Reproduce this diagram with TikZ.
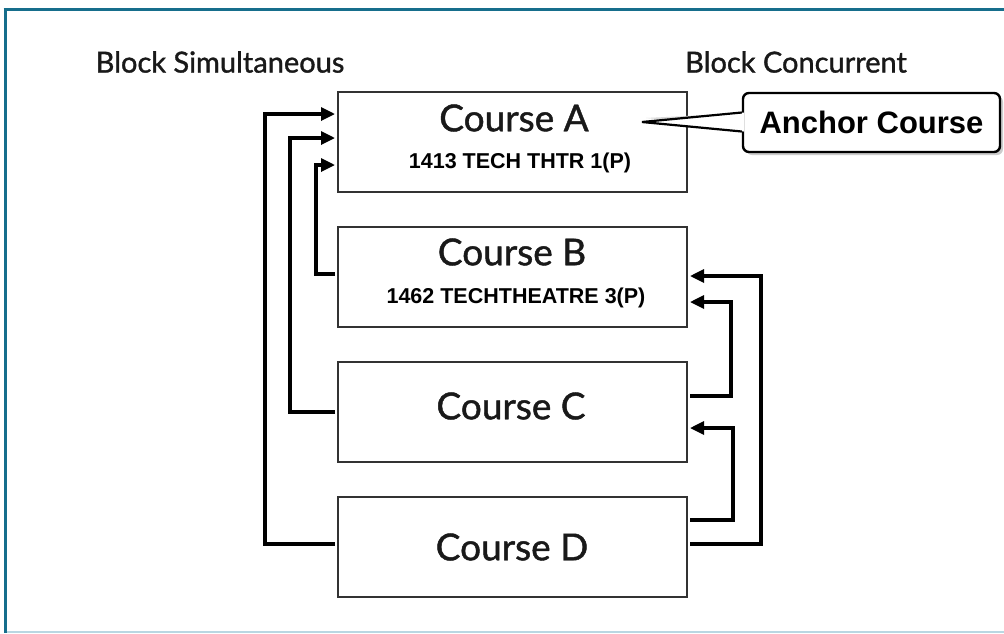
\documentclass[tikz,border=0pt]{standalone}
\usepackage{fontspec}
\setmainfont{Liberation Sans}
\newfontfamily\gillfont[FakeBold=1.2]{Lato}
\usetikzlibrary{arrows.meta,shadows}
\definecolor{frameteal}{RGB}{22,110,140}
\definecolor{framelight}{RGB}{185,215,226}
\definecolor{boxgray}{RGB}{50,50,50}
\begin{document}
\begin{tikzpicture}[x=1pt,y=-1pt,
  box/.style={draw=boxgray,line width=2pt,minimum width=349pt,minimum height=100pt,inner sep=0pt,fill=white},
  title/.style={font=\gillfont\fontsize{37}{40}\selectfont,inner sep=0pt,text=black!90},
  sub/.style={font=\bfseries\fontsize{21.5}{24}\selectfont,inner sep=0pt},
  head/.style={font=\gillfont\fontsize{29}{32}\selectfont,inner sep=0pt,text=black!90},
  conn/.style={line width=3.2pt,-{Triangle[length=14pt,width=13pt]},shorten <=2pt,shorten >=2pt},
  ancbox/.style={draw=black,line width=2.4pt,rounded corners=6pt,fill=white,minimum width=257pt,minimum height=59pt,inner sep=0pt,font=\bfseries\fontsize{31}{34}\selectfont,drop shadow={shadow xshift=3pt,shadow yshift=-3pt,opacity=0.4}}
]
\useasboundingbox (0,0) rectangle (1004,633);
\fill[white] (0,0) rectangle (1004,633);
% frame
\draw[frameteal,line width=3pt] (3.5,9.5) -- (1004,9.5);
\draw[frameteal,line width=3pt] (5,8) -- (5,633);
\draw[framelight,line width=2pt] (6.5,632) -- (1004,632);
% headings
\node[head] (hs) at (220,62) {Block Simultaneous};
\node[head] (hc) at (796,62) {Block Concurrent};
% boxes
\node[box] (A) at (512.5,142) {};
\node[box] (B) at (512.5,277) {};
\node[box] (C) at (512.5,412) {};
\node[box] (D) at (512.5,547) {};
\node[title] (At) at (514,118) {Course A};
\node[sub] (As) at (520,163) {1413 TECH THTR 1(P)};
\node[title] (Bt) at (512,252) {Course B};
\node[sub] (Bs) at (516,298) {1462 TECHTHEATRE 3(P)};
\node[title] (Ct) at (511,406) {Course C};
\node[title] (Dt) at (512,547) {Course D};
% left connectors
\draw[conn] ([yshift=3pt]B.west) -- ++(-21,0) |- ([yshift=-23pt]A.west);
\draw[conn] (C.west) -- ++(-47,0) |- ([yshift=4pt]A.west);
\draw[conn] ([yshift=3pt]D.west) -- ++(-72,0) |- ([yshift=28pt]A.west);
% right connectors
\draw[conn] ([yshift=3pt]D.east) -- ++(73,0) |- ([yshift=1pt]B.east);
\draw[conn] ([yshift=16pt]C.east) -- ++(43,0) |- ([yshift=-25pt]B.east);
\draw[conn] ([yshift=27pt]D.east) -- ++(45,0) |- ([yshift=-16pt]C.east);
% anchor callout
\coordinate (tip) at (642,122);
\fill[black!15] ([xshift=4pt,yshift=4pt]tip) -- ++(100,-5) -- ++(0,14) -- cycle;
\node[ancbox] (anc) at (871.5,122.5) {Anchor Course};
\fill[white] ([xshift=2pt,yshift=10pt]anc.west) -- (tip) -- ([xshift=2pt,yshift=-9pt]anc.west) -- cycle;
\draw[line width=2.2pt,line join=miter] ([yshift=10pt]anc.west) -- (tip) -- ([yshift=-9pt]anc.west);
\end{tikzpicture}
\end{document}
